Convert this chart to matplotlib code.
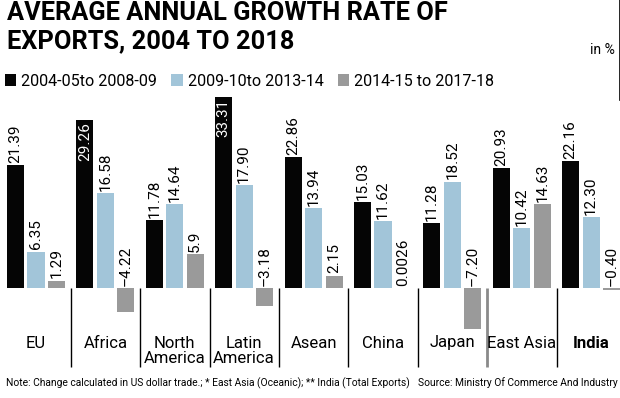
import matplotlib.pyplot as plt
from matplotlib.lines import Line2D
import numpy as np

plt.rcParams['font.family'] = ['Roboto', 'DejaVu Sans']
plt.rcParams['font.stretch'] = 'condensed'

regions = ["EU", "Africa", "North\nAmerica", "Latin\nAmerica", "Asean",
           "China", "Japan", "East Asia", "India"]
series_names = ["2004-05to 2008-09", "2009-10to 2013-14", "2014-15 to 2017-18"]
p1 = [21.39, 29.26, 11.78, 33.31, 22.86, 15.03, 11.28, 20.93, 22.16]
p2 = [6.35, 16.58, 14.64, 17.90, 13.94, 11.62, 18.52, 10.42, 12.30]
p3 = [1.29, -4.22, 5.9, -3.18, 2.15, 0.0026, -7.20, 14.63, -0.40]
p3_text = ["1.29", "-4.22", "5.9", "-3.18", "2.15", "0.0026", "-7.20", "14.63", "-0.40"]

colors = ["#050505", "#a2c5d9", "#9a9a9a"]

W, H = 620, 398
fig = plt.figure(figsize=(W / 100, H / 100), dpi=100)

# pixel layout of the plot area
x0, x1 = 1.3, 625.9
ytop, ybot, ybase = 95, 370, 288
ppu = 5.74  # pixels per percentage point
ax = fig.add_axes([x0 / W, 1 - ybot / H, (x1 - x0) / W, (ybot - ytop) / H])
ax.set_xlim(-0.5, 8.5)
ax.set_ylim(-(ybot - ybase) / ppu, (ybase - ytop) / ppu)
ax.axis('off')

x = np.arange(len(regions))
off = 0.295
bw = 0.245
pad = 2.2 / ppu

all_vals = [p1, p2, p3]
for k, vals in enumerate(all_vals):
    xs = x + (k - 1) * off
    ax.bar(xs, vals, width=bw, color=colors[k], label=series_names[k])
    for i, v in enumerate(vals):
        txt = p3_text[i] if k == 2 else f"{v:.2f}"
        txt = txt.replace("-", "\u2013")
        if v > 28:
            ax.text(xs[i], v - pad, txt, rotation=90, ha='center', va='top',
                    color='white', fontsize=11)
        elif v > 0.01:
            ax.text(xs[i], v + pad, txt, rotation=90, ha='center', va='bottom',
                    color='black', fontsize=11)
        else:
            ax.text(xs[i], pad, txt, rotation=90, ha='center', va='bottom',
                    color='black', fontsize=11)

# group dividers
for i in range(1, len(regions)):
    c, lw = ('#8a8a8a', 2.0) if i == 7 else ('black', 1.0)
    ax.vlines(i - 0.5, -(367 - ybase) / ppu, 0, color=c, lw=lw)

# region names
for i, r in enumerate(regions):
    ax.text(i, -(335.5 - ybase) / ppu, r, ha='center', va='top', fontsize=12,
            linespacing=1.08, fontweight='bold' if r == "India" else 'normal')

fig.text(7 / W, 1 - 1 / H, "AVERAGE ANNUAL GROWTH RATE OF\nEXPORTS, 2004 TO 2018",
         ha='left', va='top', fontsize=18.3, fontweight='bold', linespacing=1.22)
fig.text(615 / W, 1 - 50 / H, "in %", ha='right', va='center', fontsize=10)

fig.legend(loc='center left', bbox_to_anchor=(5 / W, 1 - 81 / H), ncol=3,
           frameon=False, fontsize=11.6, handlelength=0.7, handleheight=0.7,
           handletextpad=0.3, columnspacing=0.9, borderaxespad=0, borderpad=0)

fig.text(6 / W, 1 - 383 / H,
         "Note: Change calculated in US dollar trade.; * East Asia (Oceanic); ** India (Total Exports)",
         ha='left', va='center', fontsize=7.35)
fig.text(618 / W, 1 - 383 / H, "Source: Ministry Of Commerce And Industry",
         ha='right', va='center', fontsize=7.35)

fig.add_artist(Line2D([619.5 / W, 619.5 / W], [1, 1 - 100 / H], color='black', lw=1.2))

fig.savefig("out.png", dpi=100)
